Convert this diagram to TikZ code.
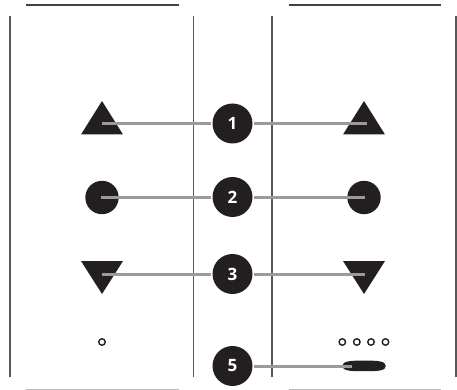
\documentclass[tikz,border=0pt]{standalone}
\usepackage{fontspec}
\setmainfont{Open Sans}
\usetikzlibrary{calc,positioning}
\definecolor{inkx}{HTML}{231F20}
\definecolor{railx}{HTML}{58585A}
\definecolor{linkx}{HTML}{9A9A9C}
\definecolor{palex}{HTML}{BDBDBD}
\tikzset{
  rail/.style={draw=railx,line width=1.6pt},
  cap line/.style={draw=inkx!85,line width=1.2pt},
  pale line/.style={draw=palex,line width=1pt},
  link/.style={draw=linkx,line width=3pt},
  num/.style={circle,fill=inkx,text=white,minimum size=40pt,inner sep=0pt,outer sep=1.3pt,font=\bfseries\fontsize{17}{17}\selectfont},
  dotx/.style={circle,draw=inkx,fill=white,line width=1.4pt,minimum size=6.5pt,inner sep=0pt}
}
\begin{document}
\begin{tikzpicture}[x=1pt,y=-1pt]
\useasboundingbox (0,0) rectangle (457,390);
% frame lines
\draw[cap line] (26,5)--(179,5);
\draw[cap line] (289,5)--(441,5);
\draw[pale line] (26,389)--(179,389);
\draw[pale line] (289,389)--(441,389);
\foreach \xr in {10,193.5,272,455.8}{\draw[rail] (\xr,16)--(\xr,377);}
% symbols
\foreach \xs in {102,364}{
  \fill[inkx] (\xs,101)--(\xs+21,134.5)--(\xs-21,134.5)--cycle;
  \fill[inkx] (\xs,197.5) circle (16.7);
  \fill[inkx] (\xs,294)--(\xs+21,261)--(\xs-21,261)--cycle;
}
\node[dotx] (dotl) at (102,342) {};
\foreach \xd [count=\i] in {342.3,356.8,371,385.5}{\node[dotx] (dot\i) at (\xd,342) {};}
\fill[inkx] (342,366) .. controls (343,361) and (350,360.6) .. (364,360.6)
  .. controls (378,360.6) and (385.6,361) .. (385.8,366)
  .. controls (385.6,371) and (378,371.2) .. (364,371.2)
  .. controls (350,371.2) and (343,371) .. (342,366)--cycle;
% numbers
\node[num] (n1) at (232.5,123.5) {1};
\node[num] (n2) at (232.5,197) {2};
\node[num] (n3) at (232.5,274) {3};
\node[num] (n5) at (232.5,366) {5};
% free ends
\coordinate (l1) at (102,123.5);
\coordinate (r1) at (367,123.5);
\coordinate (l2) at (101,197);
\coordinate (r2) at (365,197);
\coordinate (l3) at (102,274);
\coordinate (r3) at (365,274);
\coordinate (r5) at (352,366);
\foreach \k in {1,2,3}{
  \draw[link] (n\k)--(l\k);
  \draw[link] (n\k)--(r\k);
}
\draw[link] (n5)--(r5);
\end{tikzpicture}
\end{document}
